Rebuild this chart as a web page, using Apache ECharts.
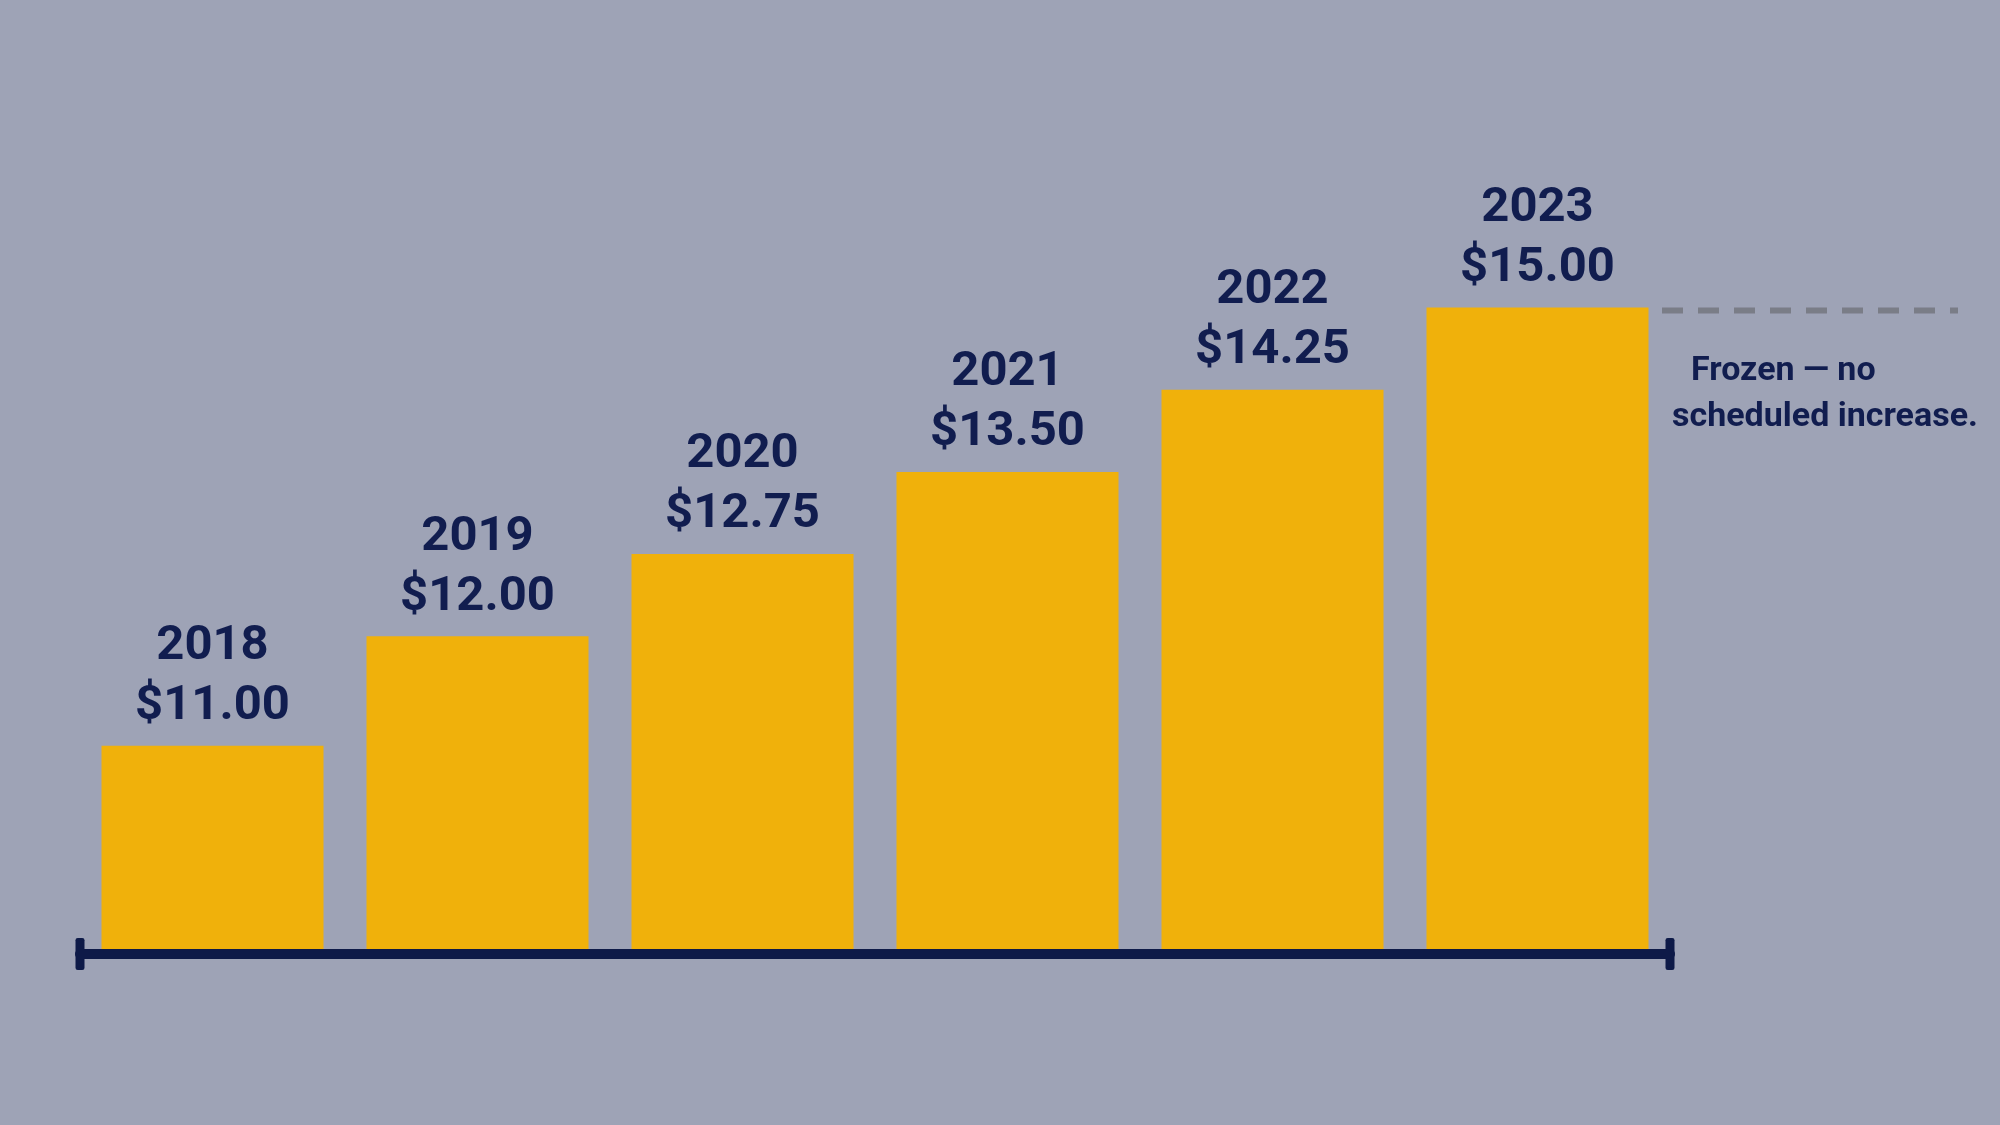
<!DOCTYPE html>
<html>
<head>
<meta charset="utf-8">
<script src="https://cdn.jsdelivr.net/npm/echarts@6/dist/echarts.min.js"></script>
<style>
  html, body { margin: 0; padding: 0; background: #9ea3b6; }
  #chart { width: 2000px; height: 1125px; }
</style>
</head>
<body>
<div id="chart"></div>
<script>
// minimum wage by year
const years = ['2018', '2019', '2020', '2021', '2022', '2023'];
const wages = [11.00, 12.00, 12.75, 13.50, 14.25, 15.00];
const noteLines = ['Frozen \u2014 no', 'scheduled increase.'];

const navy = '#111d4f';
const font = "Roboto, 'Noto Sans', sans-serif";

var chart = echarts.init(document.getElementById('chart'));

chart.setOption({
    backgroundColor: '#9ea3b6',
    animation: false,
    grid: { left: 80, right: 330, top: 198, bottom: 171 },
    xAxis: {
        type: 'category',
        data: years,
        z: 5,
        axisLine: {
            lineStyle: { color: '#0e1a48', width: 10 },
            symbol: ['roundRect', 'roundRect'],
            symbolSize: [32, 9]
        },
        axisTick: { show: false },
        axisLabel: { show: false }
    },
    yAxis: {
        type: 'value',
        min: 9.1,
        max: 16,
        show: false,
        splitLine: { show: false }
    },
    series: [{
        type: 'bar',
        data: wages,
        barWidth: 222,
        itemStyle: { color: '#f0b10b' },
        label: {
            show: true,
            position: 'top',
            distance: 9,
            color: navy,
            fontFamily: font,
            fontWeight: 'bold',
            fontSize: 49,
            lineHeight: 60,
            formatter: function (p) {
                return p.name + '\n$' + p.value.toFixed(2);
            }
        }
    }]
});

// dashed "frozen" line level with the last bar
const yTop = chart.convertToPixel({ yAxisIndex: 0 }, wages[wages.length - 1]);
chart.setOption({
    graphic: [
        {
            type: 'line',
            z: 10,
            shape: { x1: 1662, y1: yTop + 3, x2: 1958, y2: yTop + 3 },
            style: { stroke: '#7a7d87', lineWidth: 6, lineDash: [21, 15] }
        },
        {
            type: 'text',
            left: 1691, top: yTop + 47,
            style: { text: noteLines[0], fill: navy, font: 'bold 34px ' + font }
        },
        {
            type: 'text',
            left: 1672, top: yTop + 93,
            style: { text: noteLines[1], fill: navy, font: 'bold 34px ' + font }
        }
    ]
});
</script>
</body>
</html>
